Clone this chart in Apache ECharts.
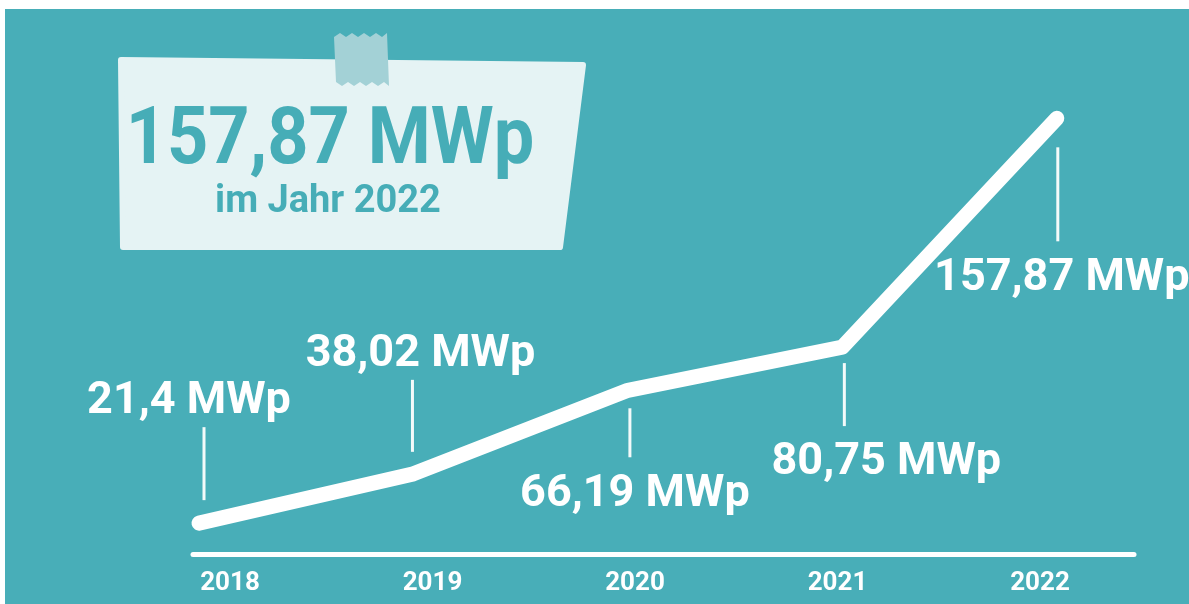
<!DOCTYPE html>
<html>
<head>
<meta charset="utf-8">
<script src="https://cdn.jsdelivr.net/npm/echarts@6/dist/echarts.min.js"></script>
<style>
  html, body { margin: 0; padding: 0; background: #fff; }
  #chart { width: 1189px; height: 604px; }
</style>
</head>
<body>
<div id="chart"></div>
<script>
// data
var years = ["2018", "2019", "2020", "2021", "2022"];
var capacity = [21.4, 38.02, 66.19, 80.75, 157.87];
var unit = "MWp";

// where each leader line / value text sits relative to its point (px)
var leaderLayout = [
  { dx: 5, from: -23, to: -96, side: "top", tdx: -15 },
  { dx: -1, from: -22, to: -94, side: "top", tdx: 8 },
  { dx: 2, from: 18, to: 67, side: "bottom", tdx: 5 },
  { dx: 2, from: 16, to: 79, side: "bottom", tdx: 42 },
  { dx: 1, from: 29, to: 123, side: "bottom", tdx: 4 },
];

var teal = "#48aeb8";

function fmt(v) {
  return String(v).replace(".", ",") + " " + unit;
}

var chart = echarts.init(document.getElementById("chart"));

var points = capacity.map(function (v, i) {
  return [i, v];
});

// wavy tape edges
var tape = [];
var xs = [334, 340, 346, 352, 358, 364, 370, 376, 382, 387];
xs.forEach(function (x, i) {
  tape.push([x, i % 2 ? 33 : 37]);
});
xs.slice().reverse().forEach(function (x, i) {
  tape.push([x + 2, i % 2 ? 82 : 86]);
});

var option = {
  backgroundColor: teal,
  animation: false,
  grid: [
    { left: 193, right: 55, top: 112, bottom: 50 },
    { left: 230, right: 149, top: 112, bottom: 50 },
  ],
  xAxis: [
    {
      type: "value",
      gridIndex: 0,
      min: -0.028,
      max: 4.36,
      axisLine: { show: true, onZero: false, lineStyle: { color: "#fff", width: 5 } },
      axisTick: { show: false },
      axisLabel: { show: false },
      splitLine: { show: false },
    },
    {
      type: "category",
      gridIndex: 1,
      data: years,
      boundaryGap: false,
      axisLine: { show: false },
      axisTick: { show: false },
      axisLabel: {
        color: "#fff",
        fontFamily: "Roboto",
        fontWeight: "bold",
        fontSize: 26,
        margin: 16,
      },
    },
  ],
  yAxis: [
    { type: "value", gridIndex: 0, min: 11, max: 160, show: false },
    { type: "value", gridIndex: 1, show: false },
  ],
  graphic: [
    { type: "rect", shape: { x: 0, y: 0, width: 1189, height: 9 }, style: { fill: "#fff" }, z: 100 },
    { type: "rect", shape: { x: 0, y: 0, width: 5, height: 604 }, style: { fill: "#fff" }, z: 100 },
    {
      type: "polygon",
      shape: { points: [[121, 60], [583, 65], [560, 247], [123, 247]] },
      style: { fill: "#e5f3f4", stroke: "#e5f3f4", lineWidth: 6, lineJoin: "round" },
      z: 1,
    },
    {
      type: "polygon",
      shape: { points: tape },
      style: { fill: "#a3d1d6" },
      z: 2,
    },
    {
      type: "text",
      x: 330,
      y: 143,
      scaleX: 0.9,
      style: {
        text: fmt(capacity[capacity.length - 1]),
        fill: "#46adb7",
        font: "bold 80px Roboto",
        align: "center",
        verticalAlign: "middle",
      },
      z: 3,
    },
    {
      type: "text",
      x: 328,
      y: 202,
      style: {
        text: "im Jahr " + years[years.length - 1],
        fill: "#46adb7",
        font: "bold 38px Roboto",
        align: "center",
        verticalAlign: "middle",
      },
      z: 3,
    },
  ],
  series: [
    {
      type: "line",
      xAxisIndex: 0,
      yAxisIndex: 0,
      data: points,
      showSymbol: false,
      symbol: "none",
      lineStyle: { color: "#fff", width: 15, cap: "round", join: "round" },
      z: 5,
    },
    {
      type: "custom",
      xAxisIndex: 0,
      yAxisIndex: 0,
      clip: false,
      data: points,
      renderItem: function (params, api) {
        var i = params.dataIndex;
        var lay = leaderLayout[i];
        var p = api.coord([api.value(0), api.value(1)]);
        var lx = p[0] + lay.dx;
        var end = p[1] + lay.to;
        var ty = lay.side === "top" ? end - 25 : end + 37;
        return {
          type: "group",
          children: [
            {
              type: "line",
              shape: { x1: lx, y1: p[1] + lay.from, x2: lx, y2: end },
              style: { stroke: "#f4fafa", lineWidth: 3 },
            },
            {
              type: "text",
              style: {
                x: lx + lay.tdx,
                y: ty,
                text: fmt(capacity[i]),
                fill: "#fff",
                font: "bold 45px Roboto",
                align: "center",
                verticalAlign: "middle",
              },
            },
          ],
        };
      },
      z: 6,
    },
  ],
};

chart.setOption(option);
</script>
</body>
</html>
